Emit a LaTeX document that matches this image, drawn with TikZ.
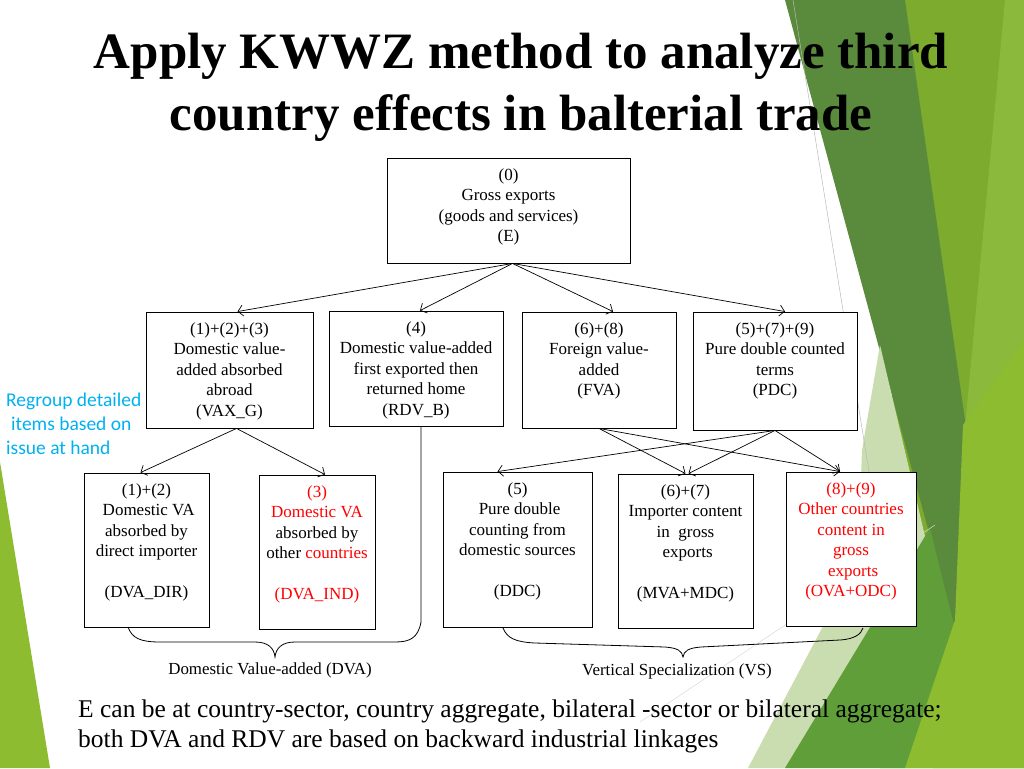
\documentclass[tikz,border=0pt]{standalone}
\usepackage{fontspec}
\setmainfont{Liberation Serif}
\newfontfamily\calibri{Carlito}
\usetikzlibrary{arrows.meta}
\definecolor{leafdark}{HTML}{5A8A3C}
\definecolor{leafmid}{HTML}{5F9E38}
\definecolor{leafyellow}{HTML}{7DAB2E}
\definecolor{leaflight}{HTML}{8AB93B}
\definecolor{leaflime}{HTML}{8DBC30}
\definecolor{leafpale}{HTML}{CADDB0}
\definecolor{regroup}{HTML}{00B0F0}
\tikzset{
  box/.style={draw,line width=0.9pt,fill=white,inner sep=0pt},
  boxtext/.style={anchor=north,align=center,inner sep=0pt,yshift=-11pt,font=\fontsize{17}{20.4}\selectfont},
  arr/.style={-{Straight Barb[length=5pt,width=11pt]},line width=0.7pt},
  bracelabel/.style={inner sep=0pt,font=\fontsize{16.9}{20}\selectfont}
}
\begin{document}
\begin{tikzpicture}[x=1pt,y=-1pt]
\useasboundingbox (0,0) rectangle (1024,768);
% background leaves
\fill[leafyellow] (905,0) -- (1024,0) -- (1024,768) -- (880,768) -- cycle;
\fill[leaflight] (1005,0) -- (1024,0) -- (1024,768) -- (933,768) -- cycle;
\fill[leafdark] (785,0) -- (905,0) -- (965,420) -- (958,640) -- cycle;
\fill[leafpale] (880,345) -- (940,600) -- (785,768) -- (748,768) -- (858,560) -- (862,450) -- cycle;
\fill[leafmid] (930,528) -- (960,650) -- (905,768) -- (785,768) -- cycle;
\fill[leaflime] (963,425) -- (1024,340) -- (1024,768) -- (905,768) -- (955,620) -- cycle;
\fill[leaflime] (0,462) -- (50,768) -- (0,768) -- cycle;
\draw[gray!55,line width=0.5pt] (793,0) -- (880,540);
\draw[gray!30,line width=0.5pt] (640,722) -- (935,525);

% title
\node[anchor=north,align=center,inner sep=0pt,font=\fontsize{51}{62}\selectfont\bfseries] (title) at (521,33)
  {Apply KWWZ method to analyze third\\country effects in balterial trade};

% top level
\node[box,minimum width=243,minimum height=105] (e) at (508.5,210.5) {};
\node[boxtext] at (e.north) {(0)\\Gross exports\\(goods and services)\\(E)};

\node[box,minimum width=167,minimum height=116] (vax) at (229.5,370) {};
\node[boxtext] at (vax.north) {(1)+(2)+(3)\\Domestic value-\\added absorbed\\abroad\\(VAX\_G)};
\node[box,minimum width=174,minimum height=115] (rdv) at (416,368.5) {};
\node[boxtext] at (rdv.north) {(4)\\Domestic value-added\\first exported then\\returned home\\(RDV\_B)};
\node[box,minimum width=154,minimum height=116] (fva) at (599,370) {};
\node[boxtext] at (fva.north) {(6)+(8)\\Foreign value-\\added\\(FVA)};
\node[box,minimum width=164,minimum height=118] (pdc) at (775,371) {};
\node[boxtext] at (pdc.north) {(5)+(7)+(9)\\Pure double counted\\terms\\(PDC)};

% detailed items
\node[box,minimum width=125,minimum height=154] (dir) at (146.5,550) {};
\node[boxtext] at (dir.north) {(1)+(2)\\\ Domestic VA\\absorbed by\\direct importer\\[20.4pt](DVA\_DIR)};
\node[box,minimum width=116,minimum height=154] (ind) at (317,552) {};
\node[boxtext] at (ind.north) {\color{red}(3)\\\color{red}Domestic VA\\absorbed by\\other \textcolor{red}{countries}\\[20.4pt]\color{red}(DVA\_IND)};
\node[box,minimum width=149,minimum height=155] (ddc) at (517.5,549.5) {};
\node[boxtext] at (ddc.north) {(5)\\\ Pure double\\counting from\\domestic sources\\[20.4pt](DDC)};
\node[box,minimum width=135,minimum height=154] (mva) at (685.5,551) {};
\node[boxtext] at (mva.north) {(6)+(7)\\Importer content\\in\ \ gross\\\ exports\\[20.4pt](MVA+MDC)};
\node[box,minimum width=130,minimum height=154] (ova) at (851,549) {};
\node[boxtext,text=red] at (ova.north) {(8)+(9)\\Other countries\\content in\\gross\\\ exports\\(OVA+ODC)};

% connectors
\foreach \n/\s in {vax/8,rdv/4,fva/14,pdc/10}
  \draw[arr] ([xshift=4pt]e.south) -- ([xshift=\s pt]\n.north);
\draw[arr] ([xshift=7pt]vax.south) -- ([xshift=-6pt]dir.north);
\draw[arr] ([xshift=7pt]vax.south) -- ([xshift=8pt]ind.north);
\draw[arr] (fva.south) -- (mva.north);
\draw[arr] (fva.south) -- ([xshift=-11pt]ova.north);
\draw[arr] (pdc.south) -- ([xshift=-20pt]ddc.north);
\draw[arr] (pdc.south) -- ([xshift=3pt]mva.north);
\draw[arr] (pdc.south) -- ([xshift=-11pt]ova.north);

% braces
\draw[line width=0.8pt] ([xshift=5pt]rdv.south) -- (421,622)
  .. controls (418,638) and (410,642) .. (395,642) -- (295,642)
  .. controls (282,642) and (276,648) .. (275,657)
  .. controls (274,648) and (268,642) .. (255,642) -- (160,642)
  .. controls (140,642) and (132,638) .. (128,627);
\draw[line width=0.8pt] (503,628) .. controls (507,638) and (515,642) .. (535,643) -- (665,647)
  .. controls (678,648) and (682,651) .. (683,657)
  .. controls (684,651) and (688,648) .. (701,647) -- (840,640)
  .. controls (855,639) and (861,634) .. (863,628);
\node[bracelabel] (dva) at (270,670) {Domestic Value-added (DVA)};
\node[bracelabel] (vs) at (677,671) {Vertical Specialization (VS)};

% side and bottom notes
\node[anchor=north west,align=left,inner sep=0pt,text=regroup,font=\calibri\fontsize{19.5}{24}\selectfont] (note) at (6,393)
  {Regroup detailed\\\hspace*{5pt}items based on\\issue at hand};
\node[anchor=north west,align=left,inner sep=0pt,font=\fontsize{25.5}{30}\selectfont] (remark) at (78,700)
  {E can be at country-sector, country aggregate, bilateral -sector or bilateral aggregate;\\both DVA and RDV are based on backward industrial linkages};
\end{tikzpicture}
\end{document}
